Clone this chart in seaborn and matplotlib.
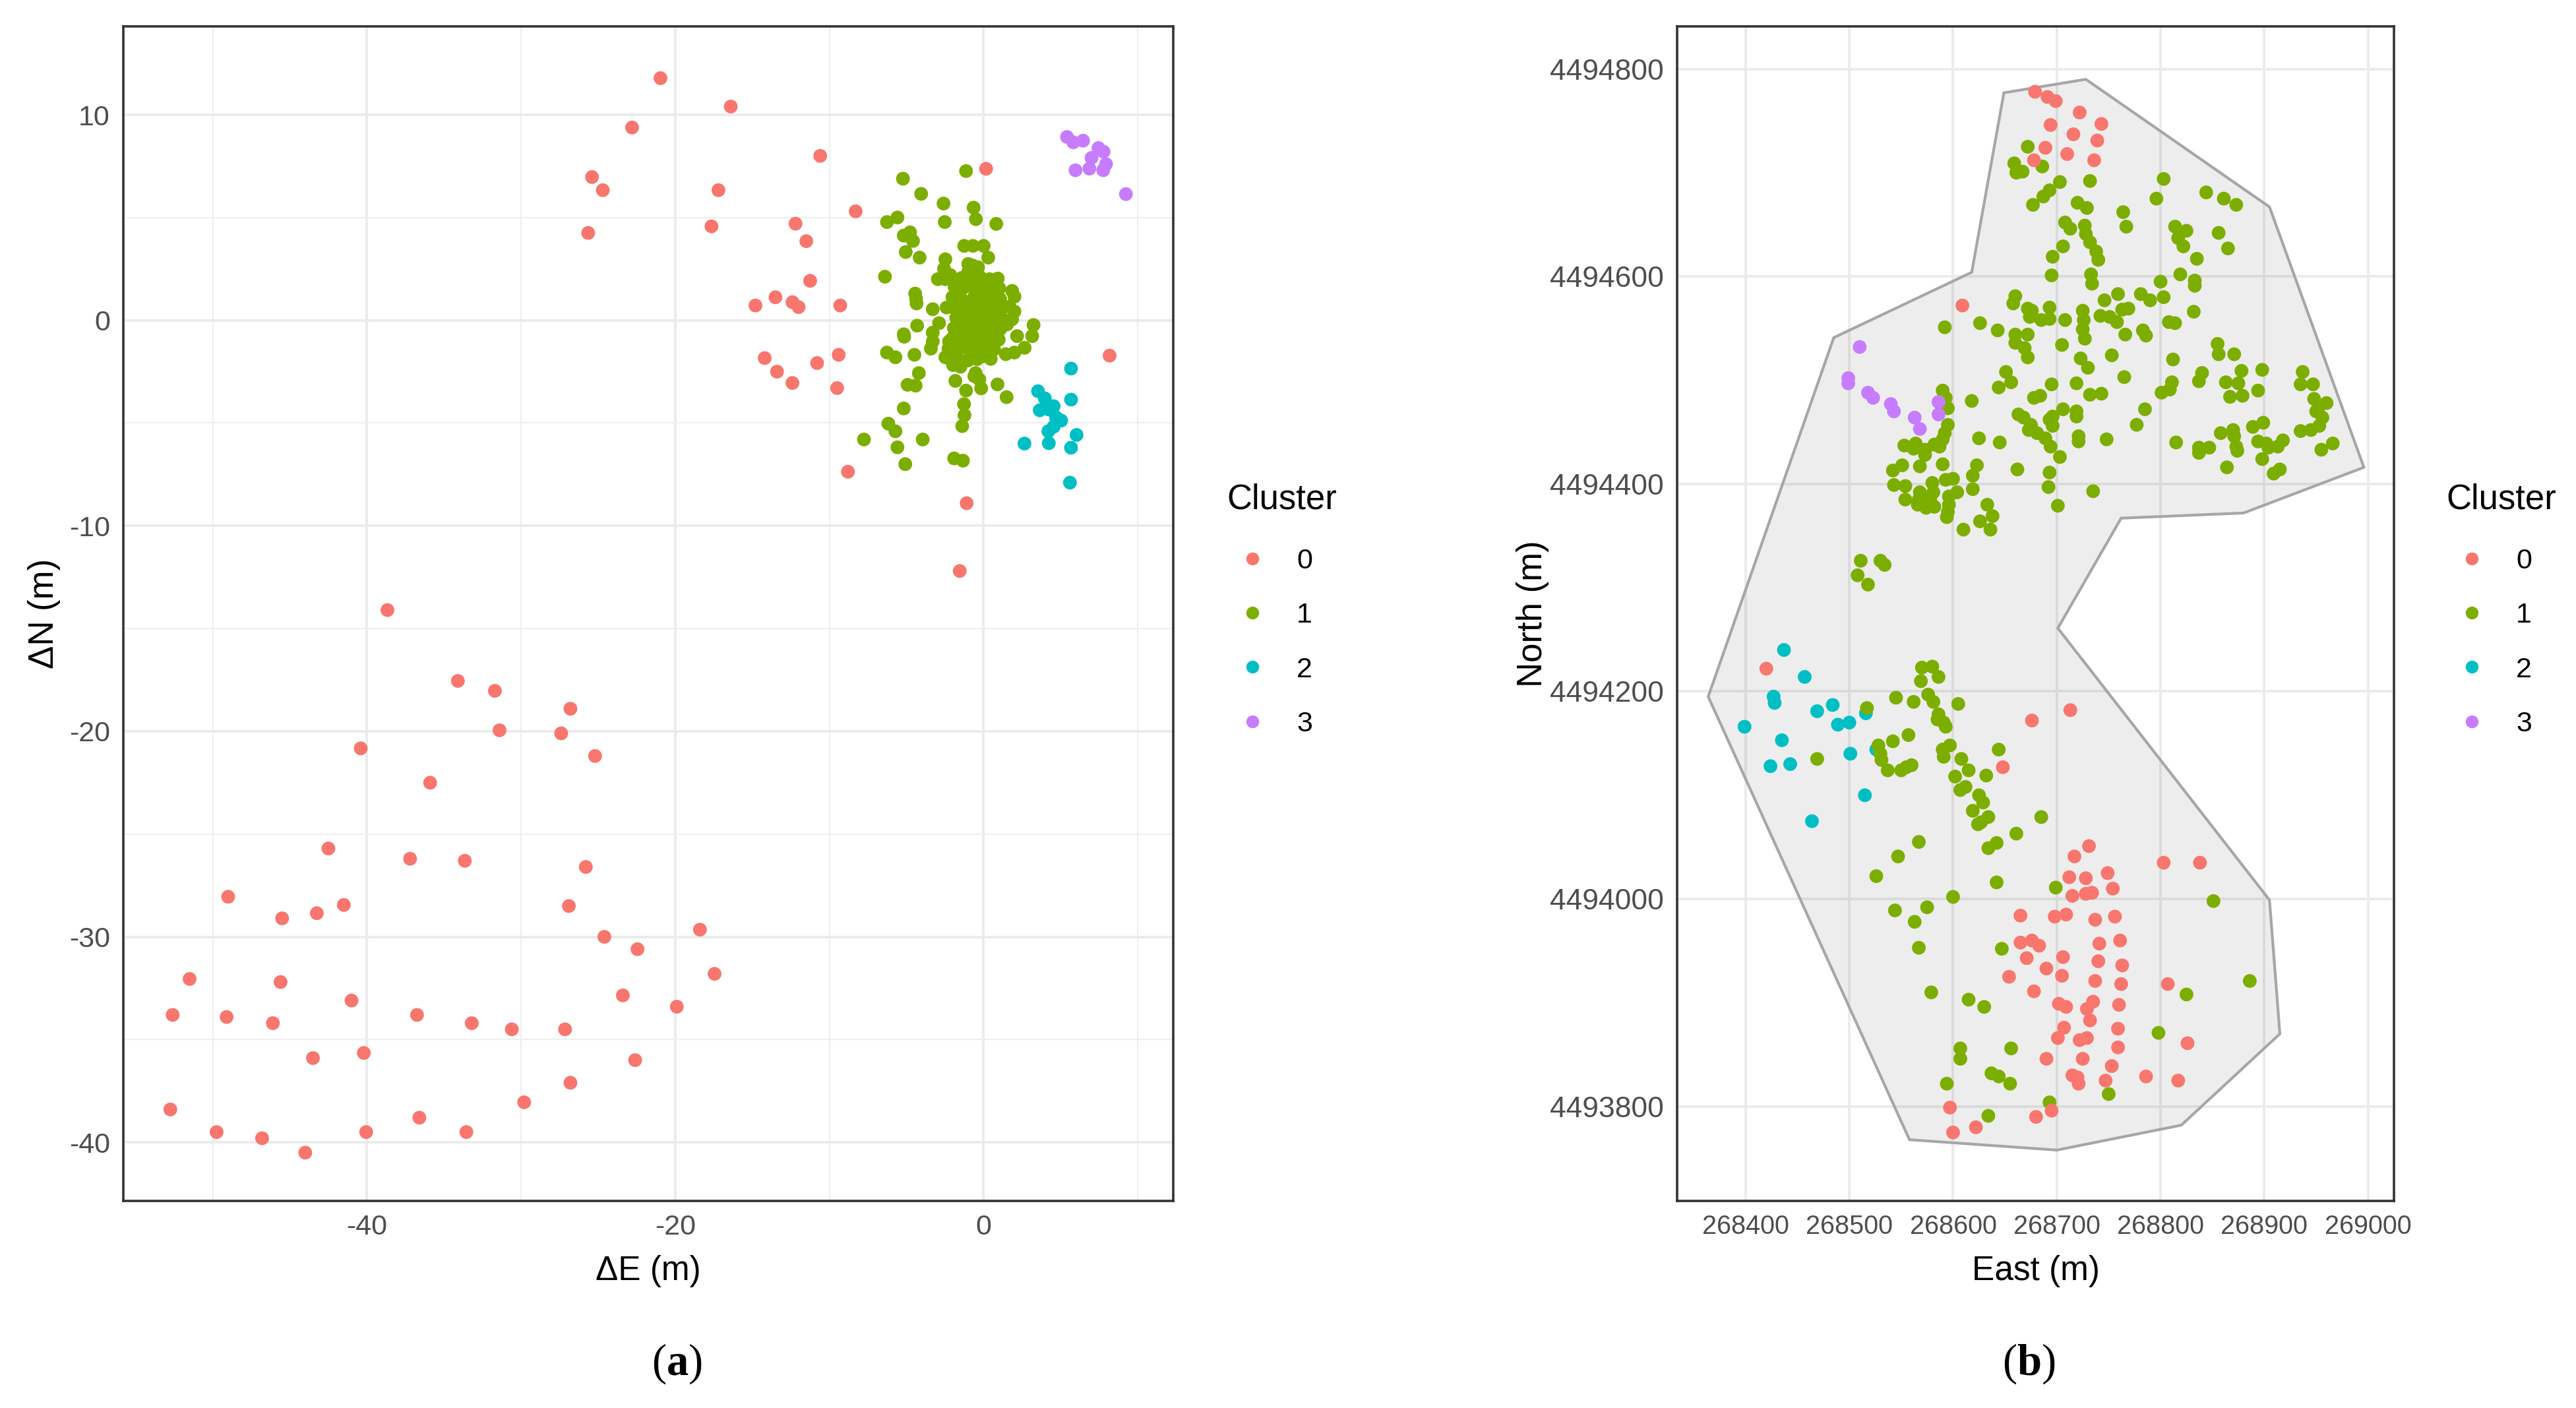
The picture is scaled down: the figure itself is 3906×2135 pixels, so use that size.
import numpy as np
import pandas as pd
import matplotlib
matplotlib.use("Agg")
import matplotlib.pyplot as plt
from matplotlib.ticker import FixedLocator
from matplotlib.patches import Polygon
import seaborn as sns

# ---------- Panel (a): delta East, delta North (m) ----------
a_cluster0 = [(-20.96,11.78),(-22.8,9.38),(-16.4,10.4),(-25.4,6.97),(-24.7,6.33),(-25.65,4.25),(-17.2,6.33),(-17.65,4.57),
 (-10.6,8.0),(-8.3,5.3),(-12.2,4.7),(-11.5,3.85),(-11.25,1.92),(-13.5,1.12),(-12.4,0.88),(-12,0.64),(-14.8,0.72),(-9.3,0.72),
 (-14.2,-1.84),(-13.4,-2.5),(-12.4,-3.05),(-10.8,-2.08),(-9.4,-1.68),(-9.5,-3.3),(-8.8,-7.37),(-1.1,-8.9),(-1.55,-12.2),(0.16,7.37),(8.17,-1.72),
 (-38.67,-14.1),(-34.1,-17.55),(-31.7,-18.03),(-26.8,-18.9),(-31.4,-19.95),(-27.4,-20.1),(-40.4,-20.83),(-25.2,-21.2),(-35.9,-22.5),
 (-42.5,-25.7),(-37.2,-26.2),(-33.65,-26.3),(-25.8,-26.6),(-49,-28.05),(-26.9,-28.5),(-45.5,-29.1),(-43.25,-28.85),(-41.5,-28.45),
 (-24.6,-30),(-22.45,-30.6),(-18.4,-29.65),(-17.45,-31.8),(-51.5,-32.05),(-45.6,-32.2),(-41,-33.1),(-23.4,-32.85),(-19.9,-33.4),
 (-52.6,-33.8),(-49.1,-33.9),(-46.1,-34.2),(-36.75,-33.8),(-33.2,-34.2),(-30.6,-34.5),(-27.15,-34.5),(-40.2,-35.65),(-43.5,-35.9),
 (-22.6,-36),(-26.8,-37.1),(-29.8,-38.05),(-36.6,-38.8),(-33.55,-39.5),(-52.75,-38.4),(-49.75,-39.5),(-46.8,-39.8),(-44,-40.5),(-40.05,-39.5)]
a_cluster1_outer = [(-1.14,7.26),(-5.23,6.89),(-4.05,6.15),(-2.6,5.68),(-0.65,5.48),(-0.5,4.92),(-2.52,4.78),(0.82,4.69),(-5.59,5.0),(-6.27,4.78),
 (-4.77,4.28),(-5.18,4.12),(-4.58,3.86),(-5.05,3.32),(-4.15,3.05),(-1.26,3.62),(-0.69,3.62),(0,3.62),(0.3,3.05),(-2.48,2.97),(-0.69,2.66),
 (-1.0,2.74),(-0.36,2.58),(-2.57,2.5),(-1.0,2.35),(-2.16,2.2),(-2.97,2.0),(-2.48,2.0),(-6.4,2.12),(-4.44,1.3),(-4.38,1.05),(-4.35,0.82),
 (-3.3,0.54),(-2.4,0.62),(-2.89,-0.14),(-4.31,-0.26),(-3.3,-0.6),(-5.18,-0.68),(-5.15,-0.8),(-3.3,-1.03),(-3.42,-1.38),(-6.27,-1.57),
 (-5.72,-1.8),(-4.49,-1.68),(-4.2,-2.57),(-4.93,-3.14),(-4.41,-3.18),(-1.83,-2.95),(-1.14,-3.42),(-0.16,-3.31),(0.9,-3.12),(1.49,-3.74),
 (-5.18,-4.29),(-1.27,-4.08),(-1.24,-4.62),(-1.39,-5.15),(-6.18,-5.03),(-5.72,-5.4),(-7.76,-5.8),(-3.95,-5.8),(-5.59,-6.18),(-5.08,-7.0),
 (-1.91,-6.72),(-1.34,-6.83),(3.24,-0.23),(3.15,-0.77),(2.17,-0.77),(2.66,-1.34),(2.0,-1.57),(1.44,-1.65),(0.46,-1.88),(1.85,1.43),(2.0,1.15),
 (2.0,0.43),(1.85,0.05),(-0.52,-2.57),(-0.6,-2.72),(-0.28,-2.88),(-2.48,-1.8),(-1.98,-2.18),(-1.5,-2.26),(-1.0,-1.95),(-2.24,-1.03)]
a_cluster1_core = [(-1.42,2.06),(-0.78,2.02),(-0.21,2.09),(0.38,2.0),(0.92,2.03),(-1.88,1.62),(-1.31,1.58),(-0.72,1.66),(-0.12,1.55),(0.52,1.61),(1.02,1.56),
 (-2.02,1.13),(-1.46,1.05),(-0.63,1.12),(0.03,1.07),(0.58,1.14),(1.07,1.04),(-1.92,0.62),(-1.27,0.57),(-0.7,0.65),(-0.08,0.59),(0.47,0.63),(1.13,0.55),(1.68,0.66),
 (-1.78,0.12),(-1.22,0.07),(-0.57,0.14),(0.02,0.05),(0.63,0.11),(1.22,0.08),(-1.93,-0.38),(-1.32,-0.42),(-0.68,-0.36),(-0.12,-0.44),(0.52,-0.39),(1.08,-0.43),(1.52,-0.2),
 (-2.03,-0.88),(-1.37,-0.93),(-0.83,-0.86),(-0.18,-0.92),(0.37,-0.87),(0.98,-0.94),(-2.28,-1.38),(-1.72,-1.43),(-1.08,-1.36),(-0.52,-1.42),(0.13,-1.37),(0.68,-1.41),
 (-2.18,-1.88),(-1.58,-1.93),(-0.42,-1.89),(-0.05,-1.75),(-1.62,0.35),(-0.95,0.32),(-0.33,0.31),(0.28,0.34),(0.88,0.36),(-1.55,-0.65),(-1.02,-0.63),(-0.42,-0.66),(0.2,-0.62),(0.75,-0.67),
 (-1.02,0.85),(-0.33,0.86),(0.31,0.88),(0.85,0.82),(-0.45,1.35),(0.25,1.33),(0.8,1.8)]
a_cluster2 = [(5.67,-2.35),(5.67,-3.86),(3.53,-3.45),(3.97,-3.8),(4.54,-4.18),(3.64,-4.38),(4.22,-4.34),(4.7,-4.72),(5.03,-4.88),(4.54,-5.18),
 (4.2,-5.4),(6.03,-5.58),(4.23,-5.98),(5.67,-6.2),(2.65,-6.0),(5.6,-7.9)]
a_cluster3 = [(5.41,8.92),(5.82,8.66),(6.45,8.74),(7.45,8.38),(7.78,8.2),(7.0,7.9),(7.94,7.6),(6.86,7.38),(5.96,7.3),(7.76,7.3),(9.23,6.14)]

# ---------- Panel (b): metres East of 268000, metres North of 4494000 ----------
EAST_BASE = 268000
NORTH_BASE = 4494000
b_boundary = [(649,777),(728,790),(905,667),(996,416),(880,372),(762,367),(701,261),(905,-1),(915,-130),(820,-218),(700,-242),(558,-232),(364,195),(485,541),(618,604)]
b_cluster0 = [(679,778),(691,773),(699,769),(722,758),(743,747),(694,746),(716,737),(739,731),(689,724),(710,718),(736,712),(678,712),(609,572),
 (420,222),(713,182),(676,172),(648,127),
 (731,51),(717,41),(712,21),(728,20),(749,25),(754,10),(803,35),(838,35),(715,3),(728,5),(734,6),(665,-16),(698,-17),(709,-15),(737,-20),(756,-17),
 (665,-42),(676,-40),(683,-45),(741,-43),(761,-40),(671,-57),(706,-56),(740,-60),(763,-64),(690,-67),(705,-74),(654,-75),(737,-79),(762,-82),(807,-82),
 (678,-89),(702,-101),(709,-104),(735,-99),(729,-106),(760,-102),(732,-117),(707,-124),(759,-125),(701,-134),(722,-136),(729,-134),(826,-139),(759,-143),
 (690,-154),(725,-154),(753,-161),(715,-170),(720,-172),(721,-178),(747,-175),(786,-171),(817,-175),(597,-201),(695,-204),(680,-210),(622,-220),(600,-225)]
b_cluster1_north = [(672,725),(659,709),(667,701),(661,700),(686,706),(703,691),(732,692),(803,694),(693,683),(687,677),(677,669),(720,671),(729,666),
 (844,681),(861,675),(873,669),(796,675),(764,662),(767,648),(708,652),(713,646),(727,649),(728,641),(732,633),(738,624),(740,616),(706,629),(696,619),
 (695,601),(733,602),(734,593),(814,648),(825,644),(817,637),(822,629),(856,642),(865,627),(835,617),(819,602),(800,595),(833,596),(833,591),(803,580),
 (781,583),(790,577),(759,583),(746,577),(660,581),(658,574),(672,569),(676,567),(674,561),(685,558),(693,570),(693,559),(708,558),(725,567),(726,558),
 (725,549),(727,540),(742,562),(751,561),(758,556),(763,568),(769,569),(832,566),(808,556),(814,555),(783,548),(786,543),(766,544),(626,555),(643,548),
 (592,551),(660,544),(672,544),(660,536),(669,531),(672,522),(705,534),(753,524),(723,521),(730,512),(812,520),(855,535),(856,525),(871,525),(878,509),
 (898,510),(937,508),(840,507),(837,499),(765,503),(651,508),(656,498),(644,493),(695,496),(719,497),(732,486),(743,487),(684,485),(678,483),(811,498),
 (809,491),(801,488),(863,498),(875,497),(894,490),(879,485),(867,484),(935,496),(947,496),(948,482),(960,478),(953,475),(950,470),(956,464),(953,456),
 (945,452),(935,451),(899,459),(889,455),(870,452),(858,449),(871,446),(873,436),(874,432),(894,441),(902,439),(904,435),(913,436),(918,442),(966,439),
 (955,433),(898,424),(864,416),(915,414),(909,410),(847,435),(837,435),(837,430),(815,440),(748,443),(785,472),(777,457),(721,446),(721,441),(706,472),
 (719,470),(719,465),(696,465),(693,462),(696,456),(663,467),(668,464),(675,457),(673,452),(681,449),(689,444),(694,436),(703,426),(693,411),(692,397),
 (735,393),(701,379),(662,414),(645,440),(625,444),(618,480),(590,490),(593,483),(595,473),(595,457),(592,449),(590,443),(587,436),(582,438),(573,433),
 (573,428),(562,434),(590,419),(568,417),(623,418),(619,408),(593,404),(600,405),(580,401),(568,392),(581,392),(619,395),(604,392),(596,388),(596,380),
 (595,373),(594,368),(566,380),(574,377),(582,378),(633,380),(638,369),(626,364),(636,356),(610,356),
 (543,399),(551,418),(553,437),(564,439),(542,413),(554,398),(567,385),(578,385),(554,385),
 (511,326),(530,326),(534,322),(508,312),(518,303)]
b_cluster1_south = [(570,223),(580,224),(586,214),(569,210),(576,197),(581,190),(545,194),(562,190),(605,188),(517,184),(586,178),(585,173),(591,170),(593,166),
 (557,158),(542,152),(528,148),(530,140),(531,134),(537,124),(550,124),(555,127),(560,129),(469,135),(597,148),(590,144),(591,137),(608,135),(644,144),
 (615,124),(602,118),(632,119),(612,108),(607,105),(625,100),(629,93),(619,85),(634,79),(627,74),(624,72),(685,79),(661,63),(642,54),(634,49),(567,55),
 (547,41),(526,22),(642,16),(699,11),(600,2),(575,-8),(544,-11),(563,-22),(851,-2),(567,-47),(647,-48),(886,-79),(825,-92),(798,-129),(750,-188),(693,-196),
 (634,-209),(579,-90),(615,-97),(630,-104),(607,-144),(607,-154),(656,-144),(637,-168),(644,-171),(655,-178),(594,-178)]
b_cluster2 = [(437,240),(457,214),(427,195),(428,189),(484,187),(469,181),(500,170),(489,168),(516,179),(399,166),(435,153),(501,140),(526,144),(443,130),(424,128),(515,100),(464,75)]
b_cluster3 = [(510,532),(499,502),(499,497),(518,488),(523,483),(540,477),(543,470),(586,479),(586,467),(568,453),(563,464)]

cluster_labels = ["0", "1", "2", "3"]
cluster_colors = ["#F8766D", "#7CAE00", "#00BFC4", "#C77CFF"]
a_x_major = [-40, -20, 0]
a_x_minor = [-50, -30, -10, 10]
a_y_major = [-40, -30, -20, -10, 0, 10]
a_y_minor = [-35, -25, -15, -5, 5]
b_x_ticks = [268400, 268500, 268600, 268700, 268800, 268900, 269000]
b_y_ticks = [4493800, 4494000, 4494200, 4494400, 4494600, 4494800]

def frame(groups, xname, yname, xbase=0, ybase=0):
    rows = []
    for label, pts in groups:
        arr = np.array(pts, dtype=float)
        rows.append(pd.DataFrame({xname: arr[:, 0] + xbase, yname: arr[:, 1] + ybase, "Cluster": label}))
    return pd.concat(rows, ignore_index=True)

df_a = frame([("2", a_cluster2), ("1", a_cluster1_outer), ("1", a_cluster1_core), ("0", a_cluster0), ("3", a_cluster3)], "dE", "dN")
df_b = frame([("2", b_cluster2), ("1", b_cluster1_north), ("1", b_cluster1_south), ("0", b_cluster0), ("3", b_cluster3)], "East", "North", EAST_BASE, NORTH_BASE)

sns.set_theme(style="white")
plt.rcParams["font.family"] = ["Liberation Sans", "DejaVu Sans"]
plt.rcParams["axes.unicode_minus"] = False
plt.rcParams["mathtext.fontset"] = "custom"
plt.rcParams["mathtext.bf"] = "Liberation Serif:bold"
plt.rcParams["mathtext.rm"] = "Liberation Serif"

W, H = 3906, 2135
fig = plt.figure(figsize=(W / 100, H / 100), dpi=100, facecolor="white")

def add_axes(l, r, t, b):
    return fig.add_axes([l / W, 1 - b / H, (r - l) / W, (b - t) / H])

ax_a = add_axes(187, 1779, 40, 1821)
ax_b = add_axes(2543, 3630, 40, 1821)
palette = dict(zip(cluster_labels, cluster_colors))

ax_b.add_patch(Polygon(np.array(b_boundary) + [EAST_BASE, NORTH_BASE], closed=True,
                       facecolor=(0, 0, 0, 0.07), edgecolor="#A6A6A6", linewidth=3.0, zorder=1.5))

sns.scatterplot(data=df_a, x="dE", y="dN", hue="Cluster", hue_order=cluster_labels, palette=palette,
                s=225, linewidth=0, ax=ax_a, zorder=3, legend=True)
sns.scatterplot(data=df_b, x="East", y="North", hue="Cluster", hue_order=cluster_labels, palette=palette,
                s=225, linewidth=0, ax=ax_b, zorder=3, legend=True)

ax_a.set_xlim(-55.8, 12.3)
ax_a.set_ylim(-42.85, 14.3)
ax_b.set_xlim(268334, 269025)
ax_b.set_ylim(4493709, 4494841)

ax_a.xaxis.set_major_locator(FixedLocator(a_x_major))
ax_a.xaxis.set_minor_locator(FixedLocator(a_x_minor))
ax_a.yaxis.set_major_locator(FixedLocator(a_y_major))
ax_a.yaxis.set_minor_locator(FixedLocator(a_y_minor))
ax_b.xaxis.set_major_locator(FixedLocator(b_x_ticks))
ax_b.yaxis.set_major_locator(FixedLocator(b_y_ticks))
ax_b.ticklabel_format(style="plain", useOffset=False)

for ax in (ax_a, ax_b):
    ax.set_axisbelow(True)
    ax.grid(True, which="major", color="#EBEBEB", linewidth=2.8, zorder=0)
    ax.grid(True, which="minor", color="#EFEFEF", linewidth=1.6, zorder=0)
    ax.tick_params(which="major", length=9.5, width=2.2, color="#333333", labelcolor="#4D4D4D", labelsize=31, pad=5)
    ax.tick_params(which="minor", length=0)
    for s in ax.spines.values():
        s.set_visible(True)
        s.set_color("#333333")
        s.set_linewidth(2.6)
ax_b.tick_params(axis="x", labelsize=28.5)
ax_b.tick_params(axis="y", labelsize=32)

ax_a.set_xlabel("\u0394E (m)", fontsize=37, color="black")
ax_a.set_ylabel("\u0394N (m)", fontsize=38, color="black")
ax_b.set_xlabel("East (m)", fontsize=37, color="black")
ax_b.set_ylabel("North (m)", fontsize=38, color="black")
ax_a.xaxis.set_label_coords(0.5, (1821 - 1903) / 1781, transform=ax_a.transAxes)
ax_b.xaxis.set_label_coords(0.5, (1821 - 1903) / 1781, transform=ax_b.transAxes)
ax_a.yaxis.set_label_coords((92 - 187) / 1592, 0.5, transform=ax_a.transAxes)
ax_b.yaxis.set_label_coords((2349 - 2543) / 1087, 0.5, transform=ax_b.transAxes)

def style_legend(ax, left_px):
    handles, labels = ax.get_legend_handles_labels()
    leg = ax.legend(handles, labels, title="Cluster", loc="upper left",
                    bbox_to_anchor=(left_px / W, 1 - 732 / H), bbox_transform=fig.transFigure,
                    frameon=False, fontsize=31, title_fontsize=38, borderpad=0, borderaxespad=0,
                    labelspacing=0.98, handletextpad=0.65, handlelength=1.81, alignment="left")
    leg.get_title().set_color("black")
    for t in leg.get_texts():
        t.set_color("black")
    for h in leg.legend_handles:
        h.set_markersize(14)
    leg._legend_box.sep += 5
    return leg

style_legend(ax_a, 1860)
style_legend(ax_b, 3709)

for cx, letter in ((1026, "a"), (3076, "b")):
    fig.text(cx / W, 1 - 2068 / H, "(" + r"$\mathbf{" + letter + "}$" + ")", family="Liberation Serif",
             fontsize=48, color="black", ha="center", va="center")

fig.savefig("out.png", dpi=100, facecolor="white")
